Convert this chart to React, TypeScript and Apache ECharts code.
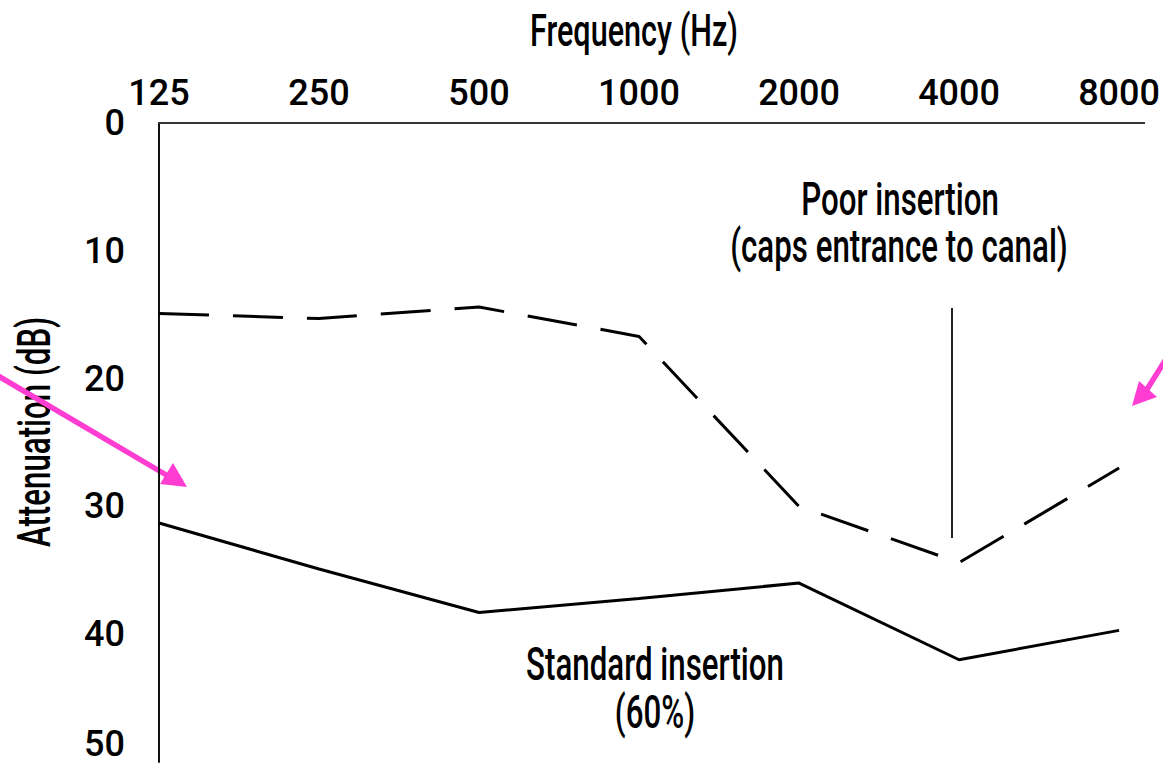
import React, { useEffect, useRef } from "react";
import * as echarts from "echarts";

const frequencies = ["125", "250", "500", "1000", "2000", "4000", "8000"];
const poorInsertion = [14.9, 15.3, 14.4, 16.7, 30.0, 34.4, 27.0];
const standardInsertion = [31.3, 34.9, 38.3, 37.2, 36.0, 42.0, 39.7];
const yMin = 0;
const yMax = 50;
const yInterval = 10;

const FONT = "Roboto, 'Noto Sans', sans-serif";
const SQUEEZE = 0.68;
const PINK = "#ff3dd2";

function label(text: string, x: number, y: number, size = 46, rotation = 0) {
  return {
    type: "text",
    x,
    y,
    rotation,
    scaleX: SQUEEZE,
    style: {
      text,
      font: `500 ${size}px ${FONT}`,
      fill: "#000",
      textAlign: "center",
      textVerticalAlign: "middle",
    },
  };
}

export default function App() {
  const ref = useRef<HTMLDivElement>(null);
  useEffect(() => {
    document.body.style.margin = "0";
    if (!ref.current) return;
    const chart = echarts.init(ref.current, undefined, { renderer: "svg" });
    chart.setOption({
      animation: false,
      backgroundColor: "#ffffff",
      grid: { left: 159, top: 123, right: 40, bottom: 8 },
      xAxis: {
        type: "category",
        position: "top",
        data: frequencies,
        boundaryGap: false,
        axisLine: { show: true, lineStyle: { color: "#333", width: 2 } },
        axisTick: { show: false },
        axisLabel: { fontFamily: FONT, fontWeight: 500, fontSize: 36, color: "#000", margin: 12 },
        splitLine: { show: false },
      },
      yAxis: {
        type: "value",
        inverse: true,
        min: yMin,
        max: yMax,
        interval: yInterval,
        axisLine: { show: true, lineStyle: { color: "#111", width: 2 } },
        axisTick: { show: false },
        axisLabel: {
          fontFamily: FONT,
          fontWeight: 500,
          fontSize: 36,
          color: "#000",
          margin: 34,
          verticalAlignMaxLabel: "bottom",
        },
        splitLine: { show: false },
      },
      series: [
        {
          type: "line",
          name: "Poor insertion",
          data: poorInsertion,
          symbol: "none",
          lineStyle: { color: "#000", width: 3, type: [50, 24] },
        },
        {
          type: "line",
          name: "Standard insertion",
          data: standardInsertion,
          symbol: "none",
          lineStyle: { color: "#000", width: 3 },
        },
      ],
      graphic: [
        {
          type: "line",
          shape: { x1: 1110, y1: 123, x2: 1145, y2: 123 },
          style: { stroke: "#333", lineWidth: 2 },
        },
        {
          type: "line",
          shape: { x1: 952, y1: 308, x2: 952, y2: 538 },
          style: { stroke: "#222", lineWidth: 2 },
        },
        label("Frequency (Hz)", 634, 30, 45),
        label("Attenuation (dB)", 35, 432, 46, Math.PI / 2),
        label("Poor insertion", 900, 200),
        label("(caps entrance to canal)", 899, 247),
        label("Standard insertion", 655, 665),
        label("(60%)", 655, 713),
        {
          type: "line",
          shape: { x1: -5, y1: 374, x2: 168, y2: 476 },
          style: { stroke: PINK, lineWidth: 5.5 },
        },
        {
          type: "polygon",
          shape: { points: [[187, 487], [160, 484], [173, 463]] },
          style: { fill: PINK },
        },
        {
          type: "line",
          shape: { x1: 1168, y1: 356, x2: 1146, y2: 391 },
          style: { stroke: PINK, lineWidth: 5.5 },
        },
        {
          type: "polygon",
          shape: { points: [[1132, 406], [1139, 381], [1157, 397]] },
          style: { fill: PINK },
        },
      ],
    });
    return () => chart.dispose();
  }, []);
  return <div ref={ref} style={{ width: 1163, height: 770 }} />;
}
